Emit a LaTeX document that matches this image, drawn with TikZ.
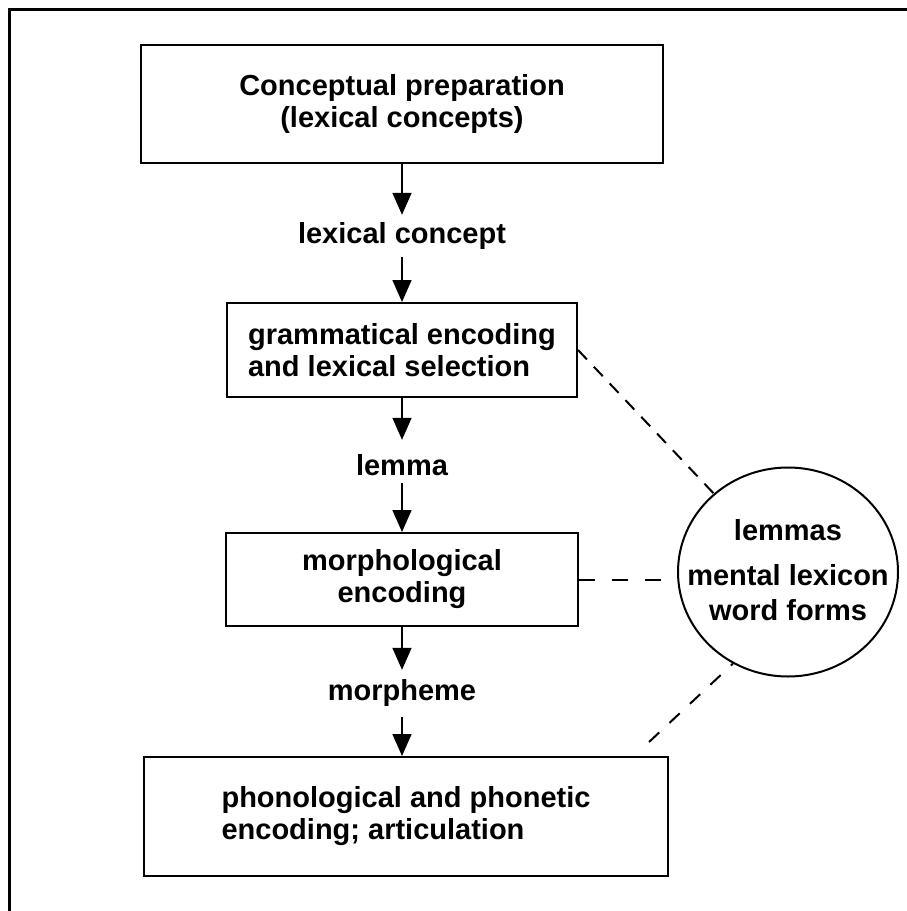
\documentclass[tikz,border=0pt]{standalone}
\usepackage{fontspec}
\setmainfont{Liberation Sans}
\usetikzlibrary{arrows.meta,shapes.geometric,calc}
\begin{document}
\begin{tikzpicture}[x=1pt,y=-1pt,
  txt/.style={font=\bfseries\fontsize{29}{32}\selectfont},
  stagebox/.style={draw,line width=2pt,inner sep=0pt,txt},
  lbl/.style={txt,inner sep=0pt,text height=21pt,text depth=6pt},
  arr/.style={line width=1.6pt,-{Triangle[length=22pt,width=19pt]}},
  link/.style={line width=2pt,dash pattern=on 13pt off 10pt}]
\useasboundingbox (0,0) rectangle (907,911);
\draw[line width=3pt] (9,911) -- (9,9) -- (907,9);

\node[stagebox,minimum width=522pt,minimum height=118pt,align=center] (b1) at (402,104) {Conceptual preparation\\(lexical concepts)};
\node[lbl] (lc) at (402,236) {lexical concept};
\node[stagebox,minimum width=350pt,minimum height=94pt,align=left] (b2) at (402,350) {grammatical encoding\\and lexical selection};
\node[lbl] (lem) at (402,468) {lemma};
\node[stagebox,minimum width=352pt,minimum height=93pt,align=center] (b3) at (402,579.5) {morphological\\encoding};
\node[lbl] (mor) at (402,693) {morpheme};
\node[stagebox,minimum width=524pt,minimum height=119pt,align=left] (b4) at (406,816.5) {phonological and phonetic\\encoding; articulation};

\node[draw,ellipse,line width=2pt,minimum width=220pt,minimum height=209pt,inner sep=0pt] (circ) at (788,572) {};
\node[font=\bfseries\fontsize{29}{35}\selectfont,align=center,inner sep=0pt] (lex) at (788,570) {lemmas\\[10pt]mental lexicon\\word forms};

\draw[arr,shorten >=7.5pt] (b1.south) -- (lc.north);
\draw[arr,shorten <=7.5pt] (lc.south) -- (b2.north);
\draw[arr,shorten >=14.5pt] (b2.south) -- (lem.north);
\draw[arr,shorten <=1.5pt] (lem.south) -- (b3.north);
\draw[arr,shorten >=9.5pt] (b3.south) -- (mor.north);
\draw[arr,shorten <=10.5pt] (mor.south) -- (mor.south |- b4.north);

\draw[link] (b2.east) -- (circ);
\draw[link,dash pattern=on 16pt off 17pt] (b3.east) -- (b3.east -| circ.west);
\coordinate (d3) at ($(b4.north east)+(-20,-14)$);
\draw[link,dash pattern=on 14pt off 14pt] (d3) -- (circ.239);
\end{tikzpicture}
\end{document}
